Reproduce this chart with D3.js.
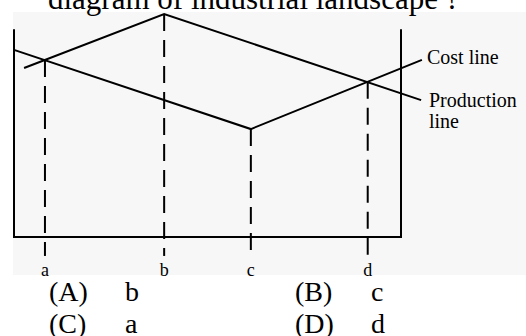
<!DOCTYPE html>
<html>
<head>
	<meta charset="utf-8">
	<title>industrial landscape</title>
	<script src="https://d3js.org/d3.v7.min.js"></script>
	<style>
		body {
			margin: 0;
			background-color: #fff;
			font-family: 'Liberation Serif', 'DejaVu Serif', serif;
		}
		.axis-line, .curve {
			fill: none;
			stroke: #000;
			stroke-width: 2;
		}
		.drop {
			stroke: #000;
			stroke-width: 2;
			stroke-dasharray: 17, 9;
		}
		text {
			fill: #000;
		}
	</style>
</head>
<body>
	<div id="chart"></div>
</body>
<script>

	// Values, in chart units (x: 0 = left axis, 100 = right axis; y: 0 = base line).
	const categories = ['a', 'b', 'c', 'd'];
	const categoryX = [8.0, 38.8, 61.2, 91.4];
	const dropTop = [79.4, 100, 48.4, 69.6];
	const dropBottom = -8.5;

	const productionX = [2.6, 38.8, 105.2];
	const productionY = [75.8, 100, 61.4];
	const costX = [0, 61.2, 105.4];
	const costY = [83.9, 48.4, 79.4];

	const axisTop = 93.2;

	const seriesLabels = [['Cost line'], ['Production', 'line']];
	const titleText = 'diagram of industrial landscape ?';
	const optionLetters = ['(A)', '(B)', '(C)', '(D)'];
	const optionAnswers = ['b', 'c', 'a', 'd'];

	const svg = d3.select('#chart')
	.append('svg')
		.attr('width', 526)
		.attr('height', 336);

	// Faint background of the scanned figure.
	svg.append('rect')
		.attr('x', 13)
		.attr('y', 12)
		.attr('width', 513)
		.attr('height', 263)
		.attr('fill', '#f7f7f7');

	const x = d3.scaleLinear().domain([0, 100]).range([14, 401]);
	const y = d3.scaleLinear().domain([0, 100]).range([237, 14]);

	const line = d3.line()
		.x(d => x(d[0]))
		.y(d => y(d[1]));

	// Box: two verticals and the base.
	svg.append('path')
		.attr('class', 'axis-line')
		.attr('d', line([[0, axisTop], [0, 0], [100, 0], [100, axisTop]]));

	// Dashed drops at a, b, c, d.
	svg.append('g')
		.selectAll('line')
		.data(categories)
		.join('line')
			.attr('class', 'drop')
			.attr('x1', (d, i) => x(categoryX[i]))
			.attr('x2', (d, i) => x(categoryX[i]))
			.attr('y1', (d, i) => y(dropTop[i]))
			.attr('y2', y(dropBottom));

	// Production and cost lines.
	svg.append('path')
		.attr('class', 'curve')
		.attr('d', line(d3.zip(productionX, productionY)));
	svg.append('path')
		.attr('class', 'curve')
		.attr('d', line(d3.zip(costX, costY)));

	// Line labels.
	const labelPos = [{x: 427, y: 64}, {x: 429, y: 107}];
	seriesLabels.forEach((rows, i) => {
		rows.forEach((row, j) => {
			svg.append('text')
				.attr('x', labelPos[i].x)
				.attr('y', labelPos[i].y + j * 21)
				.attr('font-size', 20)
				.text(row);
		});
	});

	// Category labels under the base.
	svg.append('g')
		.selectAll('text')
		.data(categories)
		.join('text')
			.attr('x', (d, i) => x(categoryX[i]))
			.attr('y', 276)
			.attr('text-anchor', 'middle')
			.attr('font-size', 18)
			.text(d => d);

	// Title, cut off at the top edge.
	svg.append('text')
		.attr('x', 48)
		.attr('y', 9)
		.attr('font-size', 31)
		.text(titleText);

	// Answer options.
	optionLetters.forEach((letter, i) => {
		const col = i % 2;
		const row = Math.floor(i / 2);
		const baseX = col === 0 ? 49 : 295;
		const baseY = 301 + row * 32;
		svg.append('text')
			.attr('x', baseX)
			.attr('y', baseY)
			.attr('font-size', 28)
			.text(letter);
		svg.append('text')
			.attr('x', baseX + 76)
			.attr('y', baseY)
			.attr('font-size', 28)
			.text(optionAnswers[i]);
	});
</script>
</html>
